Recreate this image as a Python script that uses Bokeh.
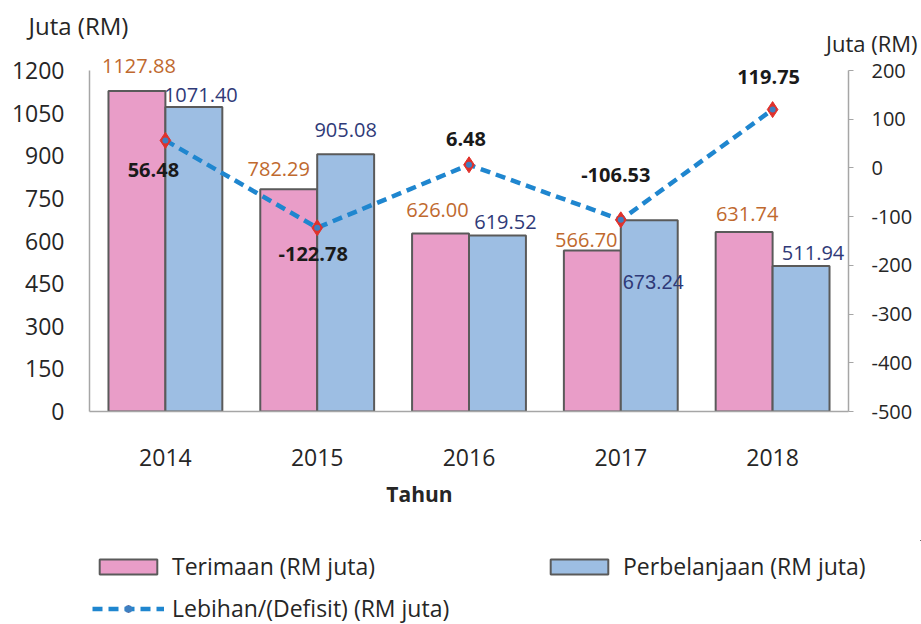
import numpy as np
from bokeh.plotting import figure
from bokeh.layouts import column
from bokeh.core.properties import value
from bokeh.models import (Range1d, LinearAxis, FixedTicker, ColumnDataSource,
                          LabelSet, Label, Legend, LegendItem)
from bokeh.embed import file_html
from bokeh.resources import INLINE

# ---------------- data ----------------
years = ["2014", "2015", "2016", "2017", "2018"]
terimaan = [1127.88, 782.29, 626.00, 566.70, 631.74]
perbelanjaan = [1071.40, 905.08, 619.52, 673.24, 511.94]
lebihan = [56.48, -122.78, 6.48, -106.53, 119.75]
left_ticks = [0, 150, 300, 450, 600, 750, 900, 1050, 1200]
right_ticks = [-500, -400, -300, -200, -100, 0, 100, 200]
series_names = ["Terimaan (RM juta)", "Perbelanjaan (RM juta)",
                "Lebihan/(Defisit) (RM juta)"]

# label nudges in pixels (+x right, +y up) -- styling only
ter_dx = [2, -10, -3, -6, 3]
ter_dy = [25, 20, 24, 10, 18]
per_dx = [7, 0, 8, 4, 12]
per_dy = [12, 24, 13, -62, 13]
leb_dx = [-12, -4, -3, -5, -4]
leb_dy = [-30, -26, 26, 45, 33]

FONT = "Open Sans"
ALT_FONT = "Liberation Sans"
PINK = "#E99DC8"
BLUE = "#9DBEE3"
EDGE = "#5A5A5A"
LINE = "#1F86CF"
RED = "#E0312B"
DOT = "#3E7FC1"
AXIS = "#A6A6A6"
TXT = "#262626"

# one expenditure label sits inside its bar in a different face
per_font = [FONT, FONT, FONT, ALT_FONT, FONT]

# layout (pixels)
W = 921
H1, H2 = 540, 84            # main chart, legend strip
F_LEFT, F_RIGHT, F_TOP, F_BOTTOM = 89, 848, 52, 411
AXIS_TOP = 70               # where the top tick sits
scale_extra = (F_BOTTOM - F_TOP) / (F_BOTTOM - AXIS_TOP)

L_LO, L_HI = left_ticks[0], left_ticks[-1]
R_LO, R_HI = right_ticks[0], right_ticks[-1]

idx = np.arange(len(years), dtype=float)
bw = 0.375

src = ColumnDataSource(dict(
    x=idx, xt=idx - bw / 2, xp=idx + bw / 2,
    ter=terimaan, per=perbelanjaan, leb=lebihan,
    ter_txt=[f"{v:.2f}" for v in terimaan],
    per_txt=[f"{v:.2f}" for v in perbelanjaan],
    leb_txt=[f"{v:.2f}" for v in lebihan],
    ter_dx=ter_dx, ter_dy=ter_dy, per_dx=per_dx, per_dy=per_dy,
    leb_dx=leb_dx, leb_dy=leb_dy, per_font=per_font,
))

p = figure(width=W, height=H1, title=None,
           x_range=Range1d(-0.5, len(years) - 0.5),
           y_range=Range1d(L_LO, L_LO + (L_HI - L_LO) * scale_extra),
           output_backend="svg", toolbar_location=None,
           min_border_left=F_LEFT, min_border_right=W - F_RIGHT,
           min_border_top=F_TOP, min_border_bottom=H1 - F_BOTTOM)
p.frame_align = False
p.extra_y_ranges = {"right": Range1d(R_LO, R_LO + (R_HI - R_LO) * scale_extra)}
p.outline_line_color = None
p.xgrid.visible = False
p.ygrid.visible = False
p.background_fill_color = "white"

# axes
xa = p.xaxis[0]
xa.ticker = FixedTicker(ticks=list(idx))
xa.major_label_overrides = {float(i): y for i, y in zip(idx, years)}
xa.major_tick_in = 0
xa.major_tick_out = 0
xa.minor_tick_in = 0
xa.minor_tick_out = 0
xa.axis_line_color = AXIS
xa.axis_line_width = 1.5
xa.major_label_text_font = FONT
xa.major_label_text_font_size = "23px"
xa.major_label_text_color = TXT
xa.major_label_standoff = 37

ya = p.yaxis[0]
ya.ticker = FixedTicker(ticks=left_ticks)
ya.bounds = (L_LO, L_HI)
ya.major_tick_in = 0
ya.major_tick_out = 0
ya.minor_tick_in = 0
ya.minor_tick_out = 0
ya.axis_line_color = AXIS
ya.axis_line_width = 1.5
ya.major_label_text_font = FONT
ya.major_label_text_font_size = "23px"
ya.major_label_text_color = TXT
ya.major_label_standoff = 25

ra = LinearAxis(y_range_name="right", ticker=FixedTicker(ticks=right_ticks))
ra.bounds = (R_LO, R_HI)
ra.major_label_overrides = {t: str(t) for t in right_ticks}
ra.major_tick_in = 0
ra.major_tick_out = 5
ra.minor_tick_in = 0
ra.minor_tick_out = 0
ra.axis_line_color = AXIS
ra.major_tick_line_color = AXIS
ra.axis_line_width = 1.5
ra.major_label_text_font = FONT
ra.major_label_text_font_size = "20px"
ra.major_label_text_color = TXT
ra.major_label_standoff = 18
p.add_layout(ra, "right")

bar_style_t = dict(fill_color=PINK, line_color=EDGE, line_width=2)
bar_style_p = dict(fill_color=BLUE, line_color=EDGE, line_width=2)
line_style = dict(line_color=LINE, line_width=4.5, line_dash="10 6")
mk_style = dict(marker="diamond", size=16, fill_color=RED, line_color=RED,
                line_width=1)
dot_style = dict(marker="circle", size=6, fill_color=DOT, line_color=None)

# bars
p.vbar(x="xt", top="ter", bottom=0, width=bw, source=src, **bar_style_t)
p.vbar(x="xp", top="per", bottom=0, width=bw, source=src, **bar_style_p)

# line
p.line(x="x", y="leb", source=src, y_range_name="right", **line_style)
p.scatter(x="x", y="leb", source=src, y_range_name="right", **mk_style)
p.scatter(x="x", y="leb", source=src, y_range_name="right", **dot_style)

# data labels
p.add_layout(LabelSet(x="xt", y="ter", text="ter_txt", source=src,
                      x_offset="ter_dx", y_offset="ter_dy",
                      text_align="center", text_baseline="middle",
                      text_font=value(FONT), text_font_size="20px",
                      text_color="#C0692E"))
p.add_layout(LabelSet(x="xp", y="per", text="per_txt", source=src,
                      x_offset="per_dx", y_offset="per_dy",
                      text_align="center", text_baseline="middle",
                      text_font="per_font", text_font_size="20px",
                      text_color="#2F3A78"))
p.add_layout(LabelSet(x="x", y="leb", text="leb_txt", source=src,
                      y_range_name="right",
                      x_offset="leb_dx", y_offset="leb_dy",
                      text_align="center", text_baseline="middle",
                      text_font=value(FONT), text_font_size="20px",
                      text_font_style="bold", text_color="#1A1A1A"))

# axis titles: labels held in the side panels (not clipped by the frame)
x0 = -0.5
p.add_layout(Label(x=x0, y=L_HI, x_offset=-11, y_offset=45, text="Juta (RM)",
                   text_align="center", text_baseline="middle",
                   text_font=FONT, text_font_size="24px", text_color=TXT), "above")
p.add_layout(Label(x=len(years) - 0.5, y=L_HI, x_offset=69, y_offset=28,
                   text="Juta (RM)", text_align="right", text_baseline="middle",
                   text_font=FONT, text_font_size="22px", text_color=TXT), "below")
p.add_layout(Label(x=x0, y=L_LO, x_offset=330, y_offset=-82, text="Tahun",
                   text_align="center", text_baseline="middle",
                   text_font=FONT, text_font_size="21px", text_font_style="bold",
                   text_color=TXT), "below")

# ---------------- legend strip ----------------
# the legend renderers reuse the series data; the view is placed away from it
q = figure(width=W, height=H2, title=None, x_range=Range1d(-100, -99),
           y_range=Range1d(-10000, -9999), output_backend="svg",
           toolbar_location=None, min_border=0,
           x_axis_location=None, y_axis_location=None)
q.frame_align = False
q.outline_line_color = None
q.xgrid.visible = False
q.ygrid.visible = False
lt = q.vbar(x="xt", top="ter", bottom=0, width=bw, source=src, **bar_style_t)
lp = q.vbar(x="xp", top="per", bottom=0, width=bw, source=src, **bar_style_p)
ll = q.line(x="x", y="leb", source=src, **line_style)
lm = q.scatter(x="x", y="leb", source=src, **mk_style)
ld = q.scatter(x="x", y="leb", source=src, **dot_style)

leg = Legend(items=[LegendItem(label=series_names[0], renderers=[lt]),
                    LegendItem(label=series_names[1], renderers=[lp]),
                    LegendItem(label=series_names[2], renderers=[ll, lm, ld],
                               index=0)],
             orientation="horizontal", ncols=2, location=(92, 0),
             glyph_width=72, glyph_height=19, label_standoff=8,
             label_width=361, label_height=24, spacing=10, padding=0, margin=0,
             border_line_color=None, background_fill_alpha=0,
             label_text_font=FONT, label_text_font_size="23px",
             label_text_color=TXT)
q.add_layout(leg)

open("out.html", "w").write(file_html(column(p, q, spacing=0), INLINE))
